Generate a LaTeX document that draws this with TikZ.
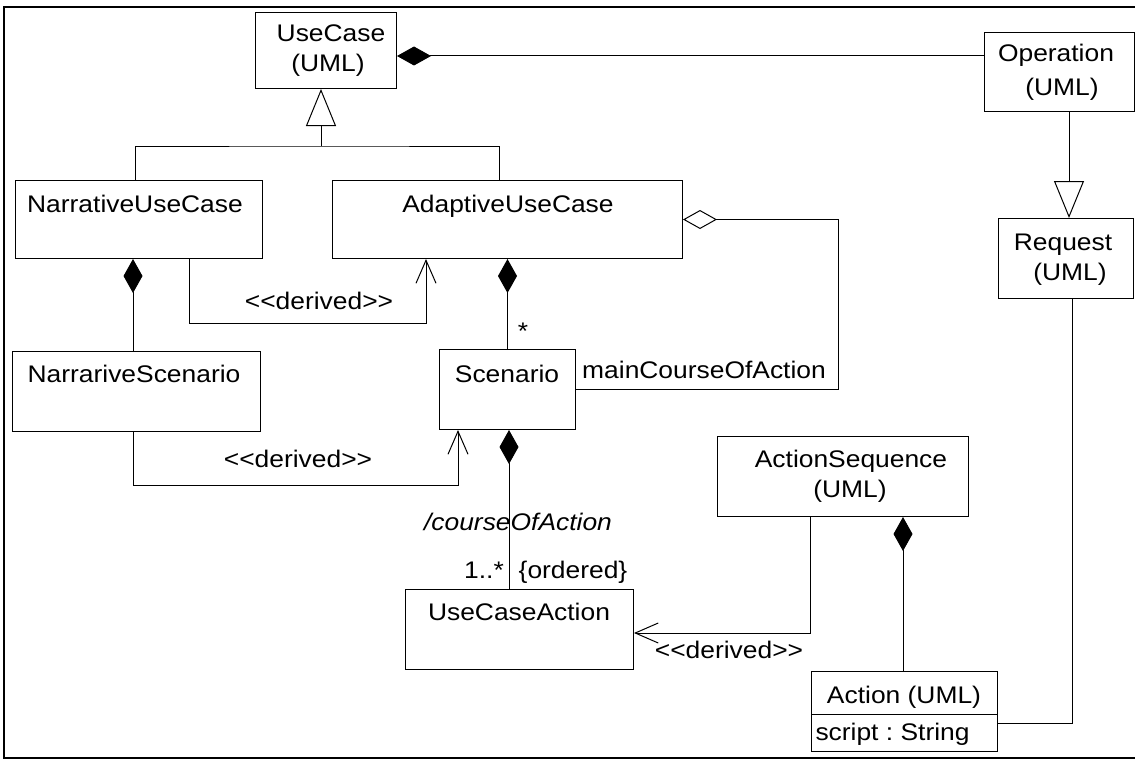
\documentclass[tikz,border=0pt]{standalone}
\usepackage{fontspec}
\setmainfont{Liberation Sans}[FakeStretch=1.1]
\usetikzlibrary{arrows.meta,calc}
\frenchspacing

% stereotype text; the kerns keep "<<" and ">>" from turning into guillemets
\newcommand{\stereo}[1]{<\kern0pt<#1>\kern0pt>}

\begin{document}
\begin{tikzpicture}[x=1pt,y=-1pt,
  line width=1pt,
  box/.style={draw, line width=1pt, inner sep=0pt, anchor=north west},
  lbl/.style={inner sep=0pt, font=\fontsize{24}{28}\selectfont, text height=17.5pt, text depth=0pt},
  comp/.style={-{Diamond[length=34pt,width=19pt]}},
  agg/.style={-{Diamond[open,length=34pt,width=19pt]}},
  inh/.style={-{Triangle[open,length=37pt,width=30pt]}},
  dep/.style={-{Straight Barb[length=23pt,width=20pt]}},
]
\useasboundingbox (0,0) rectangle (1135,760);

% outer frame
\draw[line width=2.5pt] (1140,7) -- (4,7) -- (4,758) -- (1140,758);

% classes
\node[box, minimum width=141pt, minimum height=76pt] (uc)  at (255,12)  {};
\node[box, minimum width=150pt, minimum height=79pt] (op)  at (984,32)  {};
\node[box, minimum width=247pt, minimum height=78pt] (nuc) at (15,180)  {};
\node[box, minimum width=350pt, minimum height=78pt] (auc) at (332,180) {};
\node[box, minimum width=135pt, minimum height=80pt] (req) at (998,218) {};
\node[box, minimum width=248pt, minimum height=80pt] (nsc) at (12,351)  {};
\node[box, minimum width=136pt, minimum height=80pt] (sc)  at (439,349) {};
\node[box, minimum width=251pt, minimum height=80pt] (as)  at (717,436) {};
\node[box, minimum width=228pt, minimum height=80pt] (uca) at (405,589) {};
\node[box, minimum width=186pt, minimum height=80pt] (act) at (811,671) {};
\draw ($(act.north west)+(0,43)$) -- ($(act.north east)+(0,43)$);

% class names
\node[lbl] (uc-t1)  at (331,33)  {UseCase};
\node[lbl] (uc-t2)  at (328,63)  {(UML)};
\node[lbl] (op-t1)  at (1056,53) {Operation};
\node[lbl] (op-t2)  at (1062,87) {(UML)};
\node[lbl] (nuc-t)  at (135,204) {NarrativeUseCase};
\node[lbl] (auc-t)  at (508,204) {AdaptiveUseCase};
\node[lbl] (req-t1) at (1063,242) {Request};
\node[lbl] (req-t2) at (1070,272) {(UML)};
\node[lbl] (nsc-t)  at (134,374) {NarrariveScenario};
\node[lbl] (sc-t)   at (507,374) {Scenario};
\node[lbl] (as-t1)  at (851,459) {ActionSequence};
\node[lbl] (as-t2)  at (850,489) {(UML)};
\node[lbl] (uca-t)  at (519,612) {UseCaseAction};
\node[lbl] (act-t)  at (904,695) {Action (UML)};
\node[lbl, anchor=west] (act-a) at (815,732) {script : String};

% generalisation tree under UseCase
\coordinate (gj) at (321,146);
\draw ($(nuc.north west)+(120,0)$) |- (gj) -| ($(auc.north west)+(167,0)$);
\draw[inh] (gj) -- (gj |- uc.south);

% Operation specialises Request
\draw[inh] ($(op.south west)+(85,0)$) -- ($(req.north west)+(71,0)$);

% compositions
\draw[comp] ($(op.north west)+(0,24)$) -- ($(uc.north east)+(0,44)$);
\draw[comp] ($(nsc.north west)+(121,0)$) -- ($(nuc.south west)+(118,0)$);
\draw[comp] (sc.north) -- (auc.south);
\draw[comp] ($(uca.north west)+(104,0)$) -- ($(sc.south west)+(70,0)$);
\draw[comp] ($(act.north west)+(92,0)$) -- ($(as.south west)+(186,0)$);

% aggregation (main course of action)
\draw[agg] (sc.east) -- ++(262,0) |- (auc.east);

% Request to Action
\draw ($(req.south west)+(74,0)$) |- ($(act.north east)+(0,52)$);

% derived dependencies
\draw[dep] ($(nuc.south west)+(174,0)$) -- ++(0,64) -| ($(auc.south west)+(94,0)$);
\draw[dep] ($(nsc.south west)+(121,0)$) -- ++(0,53) -| ($(sc.south west)+(19,0)$);
\draw[dep] ($(as.south west)+(93,0)$) |- ($(uca.north east)+(0,44)$);

% connector labels
\node[lbl] (m-star)  at (523,331) {*};
\node[lbl] (d1-l)    at (319,301) {\stereo{derived}};
\node[lbl] (d2-l)    at (298,459) {\stereo{derived}};
\node[lbl] (d3-l)    at (729,650) {\stereo{derived}};
\node[lbl] (mca-l)   at (704,370) {mainCourseOfAction};
\node[lbl] (coa-l)   at (518,522) {\itshape /courseOfAction};
\node[lbl] (mul-l)   at (484,570) {1..*};
\node[lbl] (ord-l)   at (573,570) {\{ordered\}};
\end{tikzpicture}
\end{document}
